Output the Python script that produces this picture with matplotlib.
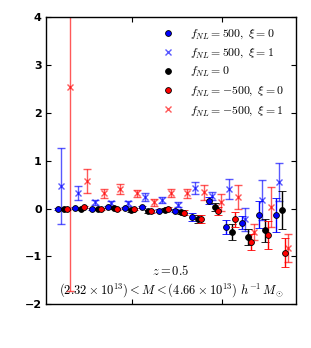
import matplotlib
matplotlib.use("Agg")
import matplotlib.pyplot as plt
from matplotlib.lines import Line2D
import numpy as np

plt.rcParams['mathtext.fontset'] = 'cm'

# bin centres (arbitrary k units)
k = [0.0127, 0.0220, 0.0312, 0.0404, 0.0497, 0.0589, 0.0682,
     0.0774, 0.0867, 0.0959, 0.1052, 0.1144, 0.1237, 0.1329]

# fNL=500, xi=0
b0 = [0.0, 0.015, 0.0, 0.035, 0.015, 0.035, -0.04, -0.04, -0.18, 0.17, -0.38, -0.29, -0.13, -0.13]
b0_err = [0.02, 0.02, 0.02, 0.02, 0.02, 0.03, 0.03, 0.04, 0.08, 0.08, 0.14, 0.14, 0.28, 0.35]
# fNL=500, xi=1
b1 = [0.47, 0.33, 0.13, 0.11, 0.11, 0.24, 0.18, 0.085, 0.43, 0.27, 0.41, -0.22, 0.18, 0.56]
b1_err = [0.79, 0.14, 0.05, 0.05, 0.05, 0.08, 0.07, 0.05, 0.13, 0.08, 0.21, 0.24, 0.42, 0.40]
# fNL=0
k0 = [0.0, -0.01, 0.0, 0.015, -0.03, -0.055, -0.02, -0.07, -0.21, 0.03, -0.49, -0.60, -0.45, -0.03]
k0_err = [0.02, 0.02, 0.02, 0.02, 0.03, 0.03, 0.03, 0.05, 0.08, 0.08, 0.16, 0.17, 0.24, 0.40]
# fNL=-500, xi=0
r0 = [0.0, 0.03, 0.0, 0.0, 0.0, -0.055, 0.0, -0.085, -0.22, -0.05, -0.22, -0.70, -0.55, -0.92]
r0_err = [0.02, 0.02, 0.02, 0.02, 0.02, 0.03, 0.03, 0.05, 0.08, 0.08, 0.16, 0.16, 0.29, 0.30]
# fNL=-500, xi=1
r1 = [2.55, 0.57, 0.32, 0.41, 0.32, 0.13, 0.33, 0.32, 0.34, 0.13, 0.25, -0.49, 0.04, -0.83]
r1_err = [4.28, 0.25, 0.09, 0.10, 0.08, 0.065, 0.08, 0.10, 0.15, 0.17, 0.25, 0.17, 0.42, 0.29]

labels = [r'$f_{NL}=500,\ \xi=0$', r'$f_{NL}=500,\ \xi=1$', r'$f_{NL}=0$',
          r'$f_{NL}=-500,\ \xi=0$', r'$f_{NL}=-500,\ \xi=1$']

fig = plt.figure(figsize=(3.11, 3.48), dpi=100)
ax = fig.add_axes([0.148, 0.1256, 0.803, 0.8244])

kk = np.array(k)
d = 0.00165
series = [
    (b0, b0_err, -2 * d, 'o', 'blue', 1.0),
    (b1, b1_err, -d, 'x', 'blue', 0.65),
    (k0, k0_err, 0.0, 'o', 'black', 1.0),
    (r0, r0_err, d, 'o', 'red', 1.0),
    (r1, r1_err, 2 * d, 'x', 'red', 0.65),
]
handles = []
for (y, e, off, m, c, a), lab in zip(series, labels):
    if m == 'o':
        ax.errorbar(kk + off, y, yerr=e, fmt='o', color=c, mfc=c, mec='black',
                    mew=0.6, ms=4.2, capsize=3, elinewidth=1.0, capthick=1.0,
                    alpha=a, zorder=3)
        handles.append(Line2D([], [], ls='none', marker='o', mfc=c, mec='black',
                              mew=0.6, ms=4.2, alpha=a, label=lab))
    else:
        ax.errorbar(kk + off, y, yerr=e, fmt='x', color=c, mec=c, mew=1.0,
                    ms=4, capsize=3, elinewidth=1.0, capthick=1.0,
                    alpha=a, zorder=2)
        handles.append(Line2D([], [], ls='none', marker='x', color=c, mew=1.0,
                              ms=4, alpha=a, label=lab))

ax.set_xlim(0.00276, 0.1405)
ax.set_ylim(-2, 4)
ax.set_xticks([0.05, 0.10])
ax.set_xticklabels([])
ax.set_yticks([-2, -1, 0, 1, 2, 3, 4])
ax.set_yticklabels(['\u22122', '\u22121', '0', '1', '2', '3', '4'])
for lbl in ax.get_yticklabels():
    lbl.set_fontweight('bold')
    lbl.set_fontsize(8)
ax.tick_params(direction='in', length=3.5, width=0.8, top=True, right=True, pad=3)
for s in ax.spines.values():
    s.set_linewidth(1.0)

ax.text(0.5, 0.115, r'$z=0.5$', transform=ax.transAxes, ha='center', va='center', fontsize=9)
ax.text(0.5, 0.048, r'$(2.32\times10^{13})<M<(4.66\times10^{13})\ h^{-1}\,M_{\odot}$',
        transform=ax.transAxes, ha='center', va='center', fontsize=9)

ax.legend(handles=handles, loc='upper right', frameon=False, numpoints=1, fontsize=8.5,
          handlelength=1.0, handletextpad=1.4, labelspacing=0.42,
          borderaxespad=0.0, bbox_to_anchor=(0.972, 0.983))

fig.savefig('out.png', dpi=100)
